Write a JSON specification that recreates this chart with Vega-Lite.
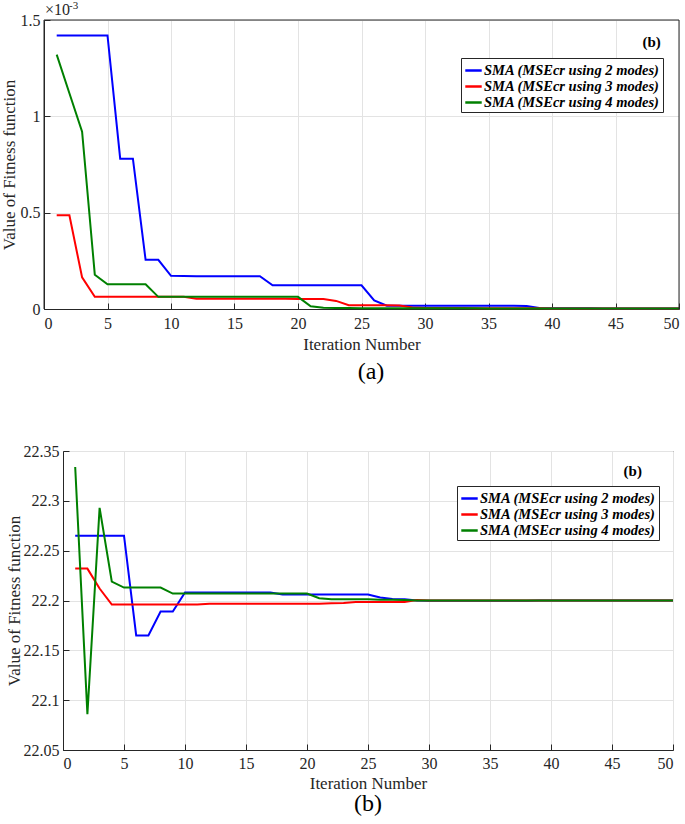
{
  "$schema": "https://vega.github.io/schema/vega-lite/v6.json",
  "padding": {"left": 0, "top": 0, "right": 5, "bottom": 2},
  "background": "white",
  "config": {
    "font": "Liberation Serif",
    "view": {"stroke": null},
    "axis": {
      "labelFont": "Liberation Serif", "titleFont": "Liberation Serif",
      "labelFontSize": 16, "labelColor": "#262626",
      "titleFontSize": 17, "titleFontWeight": "normal", "titleColor": "#262626",
      "domainColor": "#262626", "tickColor": "#262626", "gridColor": "#e3e3e3",
      "tickSize": -6, "labelPadding": 12
    },
    "axisY": {"labelPadding": 10},
    "legend": {
      "orient": "none", "title": null, "strokeColor": "#262626", "fillColor": "white", "padding": 3,
      "labelFont": "Liberation Serif", "labelFontSize": 14.5, "labelFontWeight": "bold", "labelFontStyle": "italic",
      "labelColor": "#000", "symbolType": "stroke", "symbolStrokeWidth": 2.5, "symbolSize": 270,
      "rowPadding": 0, "labelOffset": 1, "labelLimit": 400
    },
    "title": {"font": "Liberation Serif", "fontWeight": "normal", "color": "#000"},
    "text": {"font": "Liberation Serif"}
  },
  "datasets": {
    "a": [
      {"it":1,"s":"SMA (MSEcr using 2 modes)","v":0.00142},{"it":2,"s":"SMA (MSEcr using 2 modes)","v":0.00142},{"it":3,"s":"SMA (MSEcr using 2 modes)","v":0.00142},{"it":4,"s":"SMA (MSEcr using 2 modes)","v":0.00142},{"it":5,"s":"SMA (MSEcr using 2 modes)","v":0.00142},
      {"it":6,"s":"SMA (MSEcr using 2 modes)","v":0.00078},{"it":7,"s":"SMA (MSEcr using 2 modes)","v":0.00078},{"it":8,"s":"SMA (MSEcr using 2 modes)","v":0.000255},{"it":9,"s":"SMA (MSEcr using 2 modes)","v":0.000255},{"it":10,"s":"SMA (MSEcr using 2 modes)","v":0.000172},
      {"it":11,"s":"SMA (MSEcr using 2 modes)","v":0.000171},{"it":12,"s":"SMA (MSEcr using 2 modes)","v":0.00017},{"it":13,"s":"SMA (MSEcr using 2 modes)","v":0.00017},{"it":14,"s":"SMA (MSEcr using 2 modes)","v":0.00017},{"it":15,"s":"SMA (MSEcr using 2 modes)","v":0.00017},
      {"it":16,"s":"SMA (MSEcr using 2 modes)","v":0.00017},{"it":17,"s":"SMA (MSEcr using 2 modes)","v":0.00017},{"it":18,"s":"SMA (MSEcr using 2 modes)","v":0.000123},{"it":19,"s":"SMA (MSEcr using 2 modes)","v":0.000123},{"it":20,"s":"SMA (MSEcr using 2 modes)","v":0.000123},
      {"it":21,"s":"SMA (MSEcr using 2 modes)","v":0.000123},{"it":22,"s":"SMA (MSEcr using 2 modes)","v":0.000123},{"it":23,"s":"SMA (MSEcr using 2 modes)","v":0.000123},{"it":24,"s":"SMA (MSEcr using 2 modes)","v":0.000123},{"it":25,"s":"SMA (MSEcr using 2 modes)","v":0.000123},
      {"it":26,"s":"SMA (MSEcr using 2 modes)","v":0.000045},{"it":27,"s":"SMA (MSEcr using 2 modes)","v":0.000017},{"it":28,"s":"SMA (MSEcr using 2 modes)","v":0.000017},{"it":29,"s":"SMA (MSEcr using 2 modes)","v":0.000017},{"it":30,"s":"SMA (MSEcr using 2 modes)","v":0.000017},
      {"it":31,"s":"SMA (MSEcr using 2 modes)","v":0.000017},{"it":32,"s":"SMA (MSEcr using 2 modes)","v":0.000017},{"it":33,"s":"SMA (MSEcr using 2 modes)","v":0.000017},{"it":34,"s":"SMA (MSEcr using 2 modes)","v":0.000017},{"it":35,"s":"SMA (MSEcr using 2 modes)","v":0.000017},
      {"it":36,"s":"SMA (MSEcr using 2 modes)","v":0.000017},{"it":37,"s":"SMA (MSEcr using 2 modes)","v":0.000017},{"it":38,"s":"SMA (MSEcr using 2 modes)","v":0.000016},{"it":39,"s":"SMA (MSEcr using 2 modes)","v":0.000005},{"it":40,"s":"SMA (MSEcr using 2 modes)","v":0.000004},
      {"it":41,"s":"SMA (MSEcr using 2 modes)","v":0.000004},{"it":42,"s":"SMA (MSEcr using 2 modes)","v":0.000004},{"it":43,"s":"SMA (MSEcr using 2 modes)","v":0.000004},{"it":44,"s":"SMA (MSEcr using 2 modes)","v":0.000003},{"it":45,"s":"SMA (MSEcr using 2 modes)","v":0.000003},
      {"it":46,"s":"SMA (MSEcr using 2 modes)","v":0.000003},{"it":47,"s":"SMA (MSEcr using 2 modes)","v":0.000003},{"it":48,"s":"SMA (MSEcr using 2 modes)","v":0.000003},{"it":49,"s":"SMA (MSEcr using 2 modes)","v":0.000003},{"it":50,"s":"SMA (MSEcr using 2 modes)","v":0.000003},

      {"it":1,"s":"SMA (MSEcr using 3 modes)","v":0.000486},{"it":2,"s":"SMA (MSEcr using 3 modes)","v":0.000486},{"it":3,"s":"SMA (MSEcr using 3 modes)","v":0.000164},{"it":4,"s":"SMA (MSEcr using 3 modes)","v":0.000063},{"it":5,"s":"SMA (MSEcr using 3 modes)","v":0.000063},
      {"it":6,"s":"SMA (MSEcr using 3 modes)","v":0.000063},{"it":7,"s":"SMA (MSEcr using 3 modes)","v":0.000063},{"it":8,"s":"SMA (MSEcr using 3 modes)","v":0.000063},{"it":9,"s":"SMA (MSEcr using 3 modes)","v":0.000063},{"it":10,"s":"SMA (MSEcr using 3 modes)","v":0.000063},
      {"it":11,"s":"SMA (MSEcr using 3 modes)","v":0.000063},{"it":12,"s":"SMA (MSEcr using 3 modes)","v":0.000053},{"it":13,"s":"SMA (MSEcr using 3 modes)","v":0.000053},{"it":14,"s":"SMA (MSEcr using 3 modes)","v":0.000053},{"it":15,"s":"SMA (MSEcr using 3 modes)","v":0.000053},
      {"it":16,"s":"SMA (MSEcr using 3 modes)","v":0.000053},{"it":17,"s":"SMA (MSEcr using 3 modes)","v":0.000053},{"it":18,"s":"SMA (MSEcr using 3 modes)","v":0.000053},{"it":19,"s":"SMA (MSEcr using 3 modes)","v":0.000053},{"it":20,"s":"SMA (MSEcr using 3 modes)","v":0.000052},
      {"it":21,"s":"SMA (MSEcr using 3 modes)","v":0.000052},{"it":22,"s":"SMA (MSEcr using 3 modes)","v":0.000052},{"it":23,"s":"SMA (MSEcr using 3 modes)","v":0.000042},{"it":24,"s":"SMA (MSEcr using 3 modes)","v":0.00002},{"it":25,"s":"SMA (MSEcr using 3 modes)","v":0.000019},
      {"it":26,"s":"SMA (MSEcr using 3 modes)","v":0.000019},{"it":27,"s":"SMA (MSEcr using 3 modes)","v":0.000019},{"it":28,"s":"SMA (MSEcr using 3 modes)","v":0.000018},{"it":29,"s":"SMA (MSEcr using 3 modes)","v":0.000008},{"it":30,"s":"SMA (MSEcr using 3 modes)","v":0.000005},
      {"it":31,"s":"SMA (MSEcr using 3 modes)","v":0.000005},{"it":32,"s":"SMA (MSEcr using 3 modes)","v":0.000005},{"it":33,"s":"SMA (MSEcr using 3 modes)","v":0.000005},{"it":34,"s":"SMA (MSEcr using 3 modes)","v":0.000004},{"it":35,"s":"SMA (MSEcr using 3 modes)","v":0.000004},
      {"it":36,"s":"SMA (MSEcr using 3 modes)","v":0.000004},{"it":37,"s":"SMA (MSEcr using 3 modes)","v":0.000004},{"it":38,"s":"SMA (MSEcr using 3 modes)","v":0.000004},{"it":39,"s":"SMA (MSEcr using 3 modes)","v":0.000004},{"it":40,"s":"SMA (MSEcr using 3 modes)","v":0.000003},
      {"it":41,"s":"SMA (MSEcr using 3 modes)","v":0.000003},{"it":42,"s":"SMA (MSEcr using 3 modes)","v":0.000003},{"it":43,"s":"SMA (MSEcr using 3 modes)","v":0.000003},{"it":44,"s":"SMA (MSEcr using 3 modes)","v":0.000003},{"it":45,"s":"SMA (MSEcr using 3 modes)","v":0.000003},
      {"it":46,"s":"SMA (MSEcr using 3 modes)","v":0.000003},{"it":47,"s":"SMA (MSEcr using 3 modes)","v":0.000003},{"it":48,"s":"SMA (MSEcr using 3 modes)","v":0.000003},{"it":49,"s":"SMA (MSEcr using 3 modes)","v":0.000003},{"it":50,"s":"SMA (MSEcr using 3 modes)","v":0.000003},

      {"it":1,"s":"SMA (MSEcr using 4 modes)","v":0.00132},{"it":2,"s":"SMA (MSEcr using 4 modes)","v":0.00112},{"it":3,"s":"SMA (MSEcr using 4 modes)","v":0.00092},{"it":4,"s":"SMA (MSEcr using 4 modes)","v":0.000178},{"it":5,"s":"SMA (MSEcr using 4 modes)","v":0.000128},
      {"it":6,"s":"SMA (MSEcr using 4 modes)","v":0.000128},{"it":7,"s":"SMA (MSEcr using 4 modes)","v":0.000128},{"it":8,"s":"SMA (MSEcr using 4 modes)","v":0.000128},{"it":9,"s":"SMA (MSEcr using 4 modes)","v":0.000063},{"it":10,"s":"SMA (MSEcr using 4 modes)","v":0.000063},
      {"it":11,"s":"SMA (MSEcr using 4 modes)","v":0.000063},{"it":12,"s":"SMA (MSEcr using 4 modes)","v":0.000063},{"it":13,"s":"SMA (MSEcr using 4 modes)","v":0.000063},{"it":14,"s":"SMA (MSEcr using 4 modes)","v":0.000063},{"it":15,"s":"SMA (MSEcr using 4 modes)","v":0.000063},
      {"it":16,"s":"SMA (MSEcr using 4 modes)","v":0.000063},{"it":17,"s":"SMA (MSEcr using 4 modes)","v":0.000063},{"it":18,"s":"SMA (MSEcr using 4 modes)","v":0.000063},{"it":19,"s":"SMA (MSEcr using 4 modes)","v":0.000063},{"it":20,"s":"SMA (MSEcr using 4 modes)","v":0.000063},
      {"it":21,"s":"SMA (MSEcr using 4 modes)","v":0.000014},{"it":22,"s":"SMA (MSEcr using 4 modes)","v":0.000006},{"it":23,"s":"SMA (MSEcr using 4 modes)","v":0.000005},{"it":24,"s":"SMA (MSEcr using 4 modes)","v":0.000005},{"it":25,"s":"SMA (MSEcr using 4 modes)","v":0.000004},
      {"it":26,"s":"SMA (MSEcr using 4 modes)","v":0.000004},{"it":27,"s":"SMA (MSEcr using 4 modes)","v":0.000004},{"it":28,"s":"SMA (MSEcr using 4 modes)","v":0.000004},{"it":29,"s":"SMA (MSEcr using 4 modes)","v":0.000004},{"it":30,"s":"SMA (MSEcr using 4 modes)","v":0.000004},
      {"it":31,"s":"SMA (MSEcr using 4 modes)","v":0.000004},{"it":32,"s":"SMA (MSEcr using 4 modes)","v":0.000004},{"it":33,"s":"SMA (MSEcr using 4 modes)","v":0.000004},{"it":34,"s":"SMA (MSEcr using 4 modes)","v":0.000004},{"it":35,"s":"SMA (MSEcr using 4 modes)","v":0.000003},
      {"it":36,"s":"SMA (MSEcr using 4 modes)","v":0.000003},{"it":37,"s":"SMA (MSEcr using 4 modes)","v":0.000003},{"it":38,"s":"SMA (MSEcr using 4 modes)","v":0.000003},{"it":39,"s":"SMA (MSEcr using 4 modes)","v":0.000003},{"it":40,"s":"SMA (MSEcr using 4 modes)","v":0.000003},
      {"it":41,"s":"SMA (MSEcr using 4 modes)","v":0.000003},{"it":42,"s":"SMA (MSEcr using 4 modes)","v":0.000003},{"it":43,"s":"SMA (MSEcr using 4 modes)","v":0.000003},{"it":44,"s":"SMA (MSEcr using 4 modes)","v":0.000003},{"it":45,"s":"SMA (MSEcr using 4 modes)","v":0.000003},
      {"it":46,"s":"SMA (MSEcr using 4 modes)","v":0.000003},{"it":47,"s":"SMA (MSEcr using 4 modes)","v":0.000003},{"it":48,"s":"SMA (MSEcr using 4 modes)","v":0.000003},{"it":49,"s":"SMA (MSEcr using 4 modes)","v":0.000003},{"it":50,"s":"SMA (MSEcr using 4 modes)","v":0.000003}
    ],
    "b": [
      {"it":1,"s":"SMA (MSEcr using 2 modes)","v":22.265},{"it":2,"s":"SMA (MSEcr using 2 modes)","v":22.265},{"it":3,"s":"SMA (MSEcr using 2 modes)","v":22.265},{"it":4,"s":"SMA (MSEcr using 2 modes)","v":22.265},{"it":5,"s":"SMA (MSEcr using 2 modes)","v":22.265},
      {"it":6,"s":"SMA (MSEcr using 2 modes)","v":22.165},{"it":7,"s":"SMA (MSEcr using 2 modes)","v":22.165},{"it":8,"s":"SMA (MSEcr using 2 modes)","v":22.189},{"it":9,"s":"SMA (MSEcr using 2 modes)","v":22.189},{"it":10,"s":"SMA (MSEcr using 2 modes)","v":22.208},
      {"it":11,"s":"SMA (MSEcr using 2 modes)","v":22.208},{"it":12,"s":"SMA (MSEcr using 2 modes)","v":22.208},{"it":13,"s":"SMA (MSEcr using 2 modes)","v":22.208},{"it":14,"s":"SMA (MSEcr using 2 modes)","v":22.208},{"it":15,"s":"SMA (MSEcr using 2 modes)","v":22.208},
      {"it":16,"s":"SMA (MSEcr using 2 modes)","v":22.208},{"it":17,"s":"SMA (MSEcr using 2 modes)","v":22.208},{"it":18,"s":"SMA (MSEcr using 2 modes)","v":22.206},{"it":19,"s":"SMA (MSEcr using 2 modes)","v":22.206},{"it":20,"s":"SMA (MSEcr using 2 modes)","v":22.206},
      {"it":21,"s":"SMA (MSEcr using 2 modes)","v":22.206},{"it":22,"s":"SMA (MSEcr using 2 modes)","v":22.206},{"it":23,"s":"SMA (MSEcr using 2 modes)","v":22.206},{"it":24,"s":"SMA (MSEcr using 2 modes)","v":22.206},{"it":25,"s":"SMA (MSEcr using 2 modes)","v":22.206},
      {"it":26,"s":"SMA (MSEcr using 2 modes)","v":22.203},{"it":27,"s":"SMA (MSEcr using 2 modes)","v":22.2015},{"it":28,"s":"SMA (MSEcr using 2 modes)","v":22.2012},{"it":29,"s":"SMA (MSEcr using 2 modes)","v":22.2},{"it":30,"s":"SMA (MSEcr using 2 modes)","v":22.1998},
      {"it":31,"s":"SMA (MSEcr using 2 modes)","v":22.1998},{"it":32,"s":"SMA (MSEcr using 2 modes)","v":22.1998},{"it":33,"s":"SMA (MSEcr using 2 modes)","v":22.1998},{"it":34,"s":"SMA (MSEcr using 2 modes)","v":22.1998},{"it":35,"s":"SMA (MSEcr using 2 modes)","v":22.1998},
      {"it":36,"s":"SMA (MSEcr using 2 modes)","v":22.1998},{"it":37,"s":"SMA (MSEcr using 2 modes)","v":22.1998},{"it":38,"s":"SMA (MSEcr using 2 modes)","v":22.1998},{"it":39,"s":"SMA (MSEcr using 2 modes)","v":22.2},{"it":40,"s":"SMA (MSEcr using 2 modes)","v":22.2},
      {"it":41,"s":"SMA (MSEcr using 2 modes)","v":22.2},{"it":42,"s":"SMA (MSEcr using 2 modes)","v":22.2},{"it":43,"s":"SMA (MSEcr using 2 modes)","v":22.2},{"it":44,"s":"SMA (MSEcr using 2 modes)","v":22.2},{"it":45,"s":"SMA (MSEcr using 2 modes)","v":22.2},
      {"it":46,"s":"SMA (MSEcr using 2 modes)","v":22.2},{"it":47,"s":"SMA (MSEcr using 2 modes)","v":22.2},{"it":48,"s":"SMA (MSEcr using 2 modes)","v":22.2},{"it":49,"s":"SMA (MSEcr using 2 modes)","v":22.2},{"it":50,"s":"SMA (MSEcr using 2 modes)","v":22.2},

      {"it":1,"s":"SMA (MSEcr using 3 modes)","v":22.232},{"it":2,"s":"SMA (MSEcr using 3 modes)","v":22.232},{"it":3,"s":"SMA (MSEcr using 3 modes)","v":22.212},{"it":4,"s":"SMA (MSEcr using 3 modes)","v":22.196},{"it":5,"s":"SMA (MSEcr using 3 modes)","v":22.196},
      {"it":6,"s":"SMA (MSEcr using 3 modes)","v":22.196},{"it":7,"s":"SMA (MSEcr using 3 modes)","v":22.196},{"it":8,"s":"SMA (MSEcr using 3 modes)","v":22.196},{"it":9,"s":"SMA (MSEcr using 3 modes)","v":22.196},{"it":10,"s":"SMA (MSEcr using 3 modes)","v":22.196},
      {"it":11,"s":"SMA (MSEcr using 3 modes)","v":22.196},{"it":12,"s":"SMA (MSEcr using 3 modes)","v":22.1968},{"it":13,"s":"SMA (MSEcr using 3 modes)","v":22.1968},{"it":14,"s":"SMA (MSEcr using 3 modes)","v":22.1968},{"it":15,"s":"SMA (MSEcr using 3 modes)","v":22.1968},
      {"it":16,"s":"SMA (MSEcr using 3 modes)","v":22.1968},{"it":17,"s":"SMA (MSEcr using 3 modes)","v":22.1968},{"it":18,"s":"SMA (MSEcr using 3 modes)","v":22.1968},{"it":19,"s":"SMA (MSEcr using 3 modes)","v":22.1968},{"it":20,"s":"SMA (MSEcr using 3 modes)","v":22.1968},
      {"it":21,"s":"SMA (MSEcr using 3 modes)","v":22.1968},{"it":22,"s":"SMA (MSEcr using 3 modes)","v":22.1972},{"it":23,"s":"SMA (MSEcr using 3 modes)","v":22.1975},{"it":24,"s":"SMA (MSEcr using 3 modes)","v":22.1985},{"it":25,"s":"SMA (MSEcr using 3 modes)","v":22.1985},
      {"it":26,"s":"SMA (MSEcr using 3 modes)","v":22.1985},{"it":27,"s":"SMA (MSEcr using 3 modes)","v":22.1985},{"it":28,"s":"SMA (MSEcr using 3 modes)","v":22.1985},{"it":29,"s":"SMA (MSEcr using 3 modes)","v":22.2004},{"it":30,"s":"SMA (MSEcr using 3 modes)","v":22.2},
      {"it":31,"s":"SMA (MSEcr using 3 modes)","v":22.2},{"it":32,"s":"SMA (MSEcr using 3 modes)","v":22.2},{"it":33,"s":"SMA (MSEcr using 3 modes)","v":22.2},{"it":34,"s":"SMA (MSEcr using 3 modes)","v":22.2},{"it":35,"s":"SMA (MSEcr using 3 modes)","v":22.2},
      {"it":36,"s":"SMA (MSEcr using 3 modes)","v":22.2},{"it":37,"s":"SMA (MSEcr using 3 modes)","v":22.2},{"it":38,"s":"SMA (MSEcr using 3 modes)","v":22.2},{"it":39,"s":"SMA (MSEcr using 3 modes)","v":22.2},{"it":40,"s":"SMA (MSEcr using 3 modes)","v":22.2},
      {"it":41,"s":"SMA (MSEcr using 3 modes)","v":22.2},{"it":42,"s":"SMA (MSEcr using 3 modes)","v":22.2},{"it":43,"s":"SMA (MSEcr using 3 modes)","v":22.2},{"it":44,"s":"SMA (MSEcr using 3 modes)","v":22.2},{"it":45,"s":"SMA (MSEcr using 3 modes)","v":22.2},
      {"it":46,"s":"SMA (MSEcr using 3 modes)","v":22.2},{"it":47,"s":"SMA (MSEcr using 3 modes)","v":22.2},{"it":48,"s":"SMA (MSEcr using 3 modes)","v":22.2},{"it":49,"s":"SMA (MSEcr using 3 modes)","v":22.2},{"it":50,"s":"SMA (MSEcr using 3 modes)","v":22.2},

      {"it":1,"s":"SMA (MSEcr using 4 modes)","v":22.334},{"it":2,"s":"SMA (MSEcr using 4 modes)","v":22.086},{"it":3,"s":"SMA (MSEcr using 4 modes)","v":22.293},{"it":4,"s":"SMA (MSEcr using 4 modes)","v":22.219},{"it":5,"s":"SMA (MSEcr using 4 modes)","v":22.213},
      {"it":6,"s":"SMA (MSEcr using 4 modes)","v":22.213},{"it":7,"s":"SMA (MSEcr using 4 modes)","v":22.213},{"it":8,"s":"SMA (MSEcr using 4 modes)","v":22.213},{"it":9,"s":"SMA (MSEcr using 4 modes)","v":22.207},{"it":10,"s":"SMA (MSEcr using 4 modes)","v":22.207},
      {"it":11,"s":"SMA (MSEcr using 4 modes)","v":22.207},{"it":12,"s":"SMA (MSEcr using 4 modes)","v":22.207},{"it":13,"s":"SMA (MSEcr using 4 modes)","v":22.207},{"it":14,"s":"SMA (MSEcr using 4 modes)","v":22.207},{"it":15,"s":"SMA (MSEcr using 4 modes)","v":22.207},
      {"it":16,"s":"SMA (MSEcr using 4 modes)","v":22.207},{"it":17,"s":"SMA (MSEcr using 4 modes)","v":22.207},{"it":18,"s":"SMA (MSEcr using 4 modes)","v":22.207},{"it":19,"s":"SMA (MSEcr using 4 modes)","v":22.207},{"it":20,"s":"SMA (MSEcr using 4 modes)","v":22.207},
      {"it":21,"s":"SMA (MSEcr using 4 modes)","v":22.2023},{"it":22,"s":"SMA (MSEcr using 4 modes)","v":22.2012},{"it":23,"s":"SMA (MSEcr using 4 modes)","v":22.2012},{"it":24,"s":"SMA (MSEcr using 4 modes)","v":22.2012},{"it":25,"s":"SMA (MSEcr using 4 modes)","v":22.2012},
      {"it":26,"s":"SMA (MSEcr using 4 modes)","v":22.2008},{"it":27,"s":"SMA (MSEcr using 4 modes)","v":22.2008},{"it":28,"s":"SMA (MSEcr using 4 modes)","v":22.2005},{"it":29,"s":"SMA (MSEcr using 4 modes)","v":22.2},{"it":30,"s":"SMA (MSEcr using 4 modes)","v":22.2},
      {"it":31,"s":"SMA (MSEcr using 4 modes)","v":22.2},{"it":32,"s":"SMA (MSEcr using 4 modes)","v":22.2},{"it":33,"s":"SMA (MSEcr using 4 modes)","v":22.2},{"it":34,"s":"SMA (MSEcr using 4 modes)","v":22.2},{"it":35,"s":"SMA (MSEcr using 4 modes)","v":22.2},
      {"it":36,"s":"SMA (MSEcr using 4 modes)","v":22.2},{"it":37,"s":"SMA (MSEcr using 4 modes)","v":22.2},{"it":38,"s":"SMA (MSEcr using 4 modes)","v":22.2},{"it":39,"s":"SMA (MSEcr using 4 modes)","v":22.2},{"it":40,"s":"SMA (MSEcr using 4 modes)","v":22.2},
      {"it":41,"s":"SMA (MSEcr using 4 modes)","v":22.2},{"it":42,"s":"SMA (MSEcr using 4 modes)","v":22.2},{"it":43,"s":"SMA (MSEcr using 4 modes)","v":22.2},{"it":44,"s":"SMA (MSEcr using 4 modes)","v":22.2},{"it":45,"s":"SMA (MSEcr using 4 modes)","v":22.2},
      {"it":46,"s":"SMA (MSEcr using 4 modes)","v":22.2},{"it":47,"s":"SMA (MSEcr using 4 modes)","v":22.2},{"it":48,"s":"SMA (MSEcr using 4 modes)","v":22.2},{"it":49,"s":"SMA (MSEcr using 4 modes)","v":22.2},{"it":50,"s":"SMA (MSEcr using 4 modes)","v":22.2}
    ]
  },
  "vconcat": [
    {
      "width": 616,
      "height": 289,
      "title": {"text": "(a)", "orient": "bottom", "fontSize": 24, "offset": 8, "font": "Liberation Serif"},
      "layer": [
        {
          "data": {"name": "a"},
          "mark": {"type": "line", "strokeWidth": 2},
          "encoding": {
            "x": {"field": "it", "type": "quantitative", "scale": {"domain": [0, 50], "nice": false, "range": [-19, 616]},
                  "axis": {"title": "Iteration Number", "values": [0,5,10,15,20,25,30,35,40,45,50], "titlePadding": 5}},
            "y": {"field": "v", "type": "quantitative", "scale": {"domain": [0, 0.0015], "nice": false, "zero": false},
                  "axis": {"title": "Value of Fitness function", "values": [0, 0.0005, 0.001, 0.0015], "offset": 19,
                           "labelExpr": "format(datum.value * 1000, '.2~g')", "titlePadding": 2}},
            "color": {"field": "s", "type": "nominal",
                      "scale": {"domain": ["SMA (MSEcr using 2 modes)", "SMA (MSEcr using 3 modes)", "SMA (MSEcr using 4 modes)"],
                                "range": ["#0000ff", "#ff0000", "#008000"]},
                      "legend": {"legendX": 398, "legendY": 38}}
          }
        },
        {
          "data": {"values": [{}]},
          "mark": {"type": "rule", "color": "#262626", "strokeWidth": 1},
          "encoding": {"y": {"datum": 0.0015}, "x": {"datum": 0}, "x2": {"datum": 50}}
        },
        {
          "data": {"values": [{}]},
          "mark": {"type": "rule", "color": "#262626", "strokeWidth": 1},
          "encoding": {"x": {"datum": 50}, "y": {"datum": 0}, "y2": {"datum": 0.0015}}
        },
        {
          "data": {"values": [{}]},
          "mark": {"type": "rule", "color": "#262626", "strokeWidth": 1},
          "encoding": {"x": {"datum": 0}, "y": {"datum": 0}, "y2": {"datum": 0.0015}}
        },
        {
          "data": {"values": [{"note": "(b)"}]},
          "mark": {"type": "text", "fontSize": 15, "fontWeight": "bold", "align": "center", "baseline": "middle", "color": "#000"},
          "encoding": {"x": {"datum": 47.85}, "y": {"datum": 0.001386}, "text": {"field": "note"}}
        },
        {
          "data": {"values": [{"note": "×10"}]},
          "mark": {"type": "text", "fontSize": 16, "align": "left", "baseline": "alphabetic", "dy": -5, "dx": 1, "color": "#262626"},
          "encoding": {"x": {"datum": 0}, "y": {"datum": 0.0015}, "text": {"field": "note"}}
        },
        {
          "data": {"values": [{"note": "-3"}]},
          "mark": {"type": "text", "fontSize": 11, "align": "left", "baseline": "alphabetic", "dy": -11, "dx": 25, "color": "#262626"},
          "encoding": {"x": {"datum": 0}, "y": {"datum": 0.0015}, "text": {"field": "note"}}
        }
      ]
    },
    {
      "width": 610,
      "height": 299,
      "view": {"stroke": "#262626"},
      "title": {"text": "(b)", "orient": "bottom", "fontSize": 24, "offset": 1, "font": "Liberation Serif"},
      "layer": [
        {
          "data": {"name": "b"},
          "mark": {"type": "line", "strokeWidth": 2},
          "encoding": {
            "x": {"field": "it", "type": "quantitative", "scale": {"domain": [0, 50], "nice": false},
                  "axis": {"title": "Iteration Number", "values": [0,5,10,15,20,25,30,35,40,45,50], "titlePadding": 4, "labelPadding": 11}},
            "y": {"field": "v", "type": "quantitative", "scale": {"domain": [22.05, 22.35], "nice": false, "zero": false},
                  "axis": {"title": "Value of Fitness function", "values": [22.05, 22.1, 22.15, 22.2, 22.25, 22.3, 22.35],
                           "labelExpr": "replace(format(datum.value, '.2f'), /0$/, '')", "titlePadding": 0}},
            "color": {"field": "s", "type": "nominal",
                      "scale": {"domain": ["SMA (MSEcr using 2 modes)", "SMA (MSEcr using 3 modes)", "SMA (MSEcr using 4 modes)"],
                                "range": ["#0000ff", "#ff0000", "#008000"]},
                      "legend": {"legendX": 394, "legendY": 35}}
          }
        },
        {
          "data": {"values": [{"note": "(b)"}]},
          "mark": {"type": "text", "fontSize": 15, "fontWeight": "bold", "align": "center", "baseline": "middle", "color": "#000"},
          "encoding": {"x": {"datum": 46.7}, "y": {"datum": 22.33}, "text": {"field": "note"}}
        }
      ]
    }
  ],
  "spacing": 58,
  "resolve": {"scale": {"color": "independent"}, "legend": {"color": "independent"}}
}
